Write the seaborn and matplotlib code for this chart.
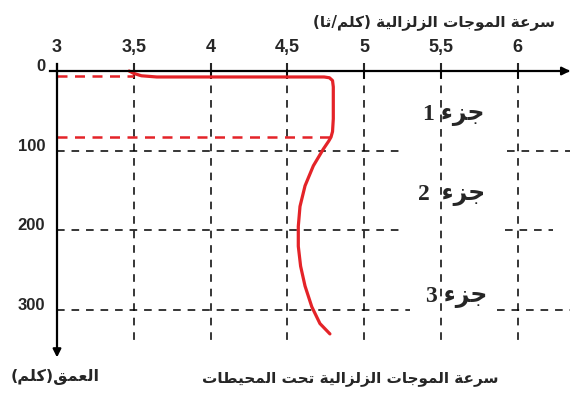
import numpy as np
import pandas as pd
import matplotlib
matplotlib.use('Agg')
import matplotlib.pyplot as plt
import seaborn as sns
from matplotlib.transforms import ScaledTranslation

# ---- data ----
speed_ticks = [3, 3.5, 4, 4.5, 5, 5.5, 6]
speed_labels = ['3', '3,5', '4', '4,5', '5', '5,5', '6']
depth_ticks = [0, 100, 200, 300]
depth_minor = [50, 150, 250]

# wave speed profile under the oceans (km/s vs depth km)
curve_depth = [0, 3, 6, 7.5, 7.5, 8.5, 12, 20, 60, 76, 83, 88, 98, 119,
               144, 170, 195, 220, 245, 270, 296, 317, 330]
curve_speed = [3.47, 3.50, 3.55, 3.65, 4.74, 4.775, 4.795, 4.80, 4.80, 4.795,
               4.785, 4.77, 4.735, 4.67, 4.616, 4.583, 4.572, 4.572, 4.587,
               4.616, 4.66, 4.713, 4.778]

# red dashed boundaries
bound_depth = [6, 83]
bound_speed = [3.5, 4.79]

part_labels = ['جزء 1', 'جزء  2', 'جزء 3']
title_top = 'سرعة الموجات الزلزالية (كلم/ثا)'
title_bottom = 'سرعة الموجات الزلزالية تحت المحيطات'
depth_label = 'العمق(كلم)'

# ---- tiny arabic shaper (matplotlib has no complex text layout) ----
DUAL = {'ب': 0xFE8F, 'ت': 0xFE95, 'ث': 0xFE99, 'ج': 0xFE9D, 'ح': 0xFEA1,
        'خ': 0xFEA5, 'س': 0xFEB1, 'ش': 0xFEB5, 'ص': 0xFEB9, 'ض': 0xFEBD,
        'ط': 0xFEC1, 'ظ': 0xFEC5, 'ع': 0xFEC9, 'غ': 0xFECD, 'ف': 0xFED1,
        'ق': 0xFED5, 'ك': 0xFED9, 'ل': 0xFEDD, 'م': 0xFEE1, 'ن': 0xFEE5,
        'ه': 0xFEE9, 'ي': 0xFEF1}
RIGHT = {'ا': 0xFE8D, 'ة': 0xFE93, 'د': 0xFEA9, 'ذ': 0xFEAB, 'ر': 0xFEAD,
         'ز': 0xFEAF, 'و': 0xFEED, 'ى': 0xFEEF}


def shape(s):
    out = []
    for i, ch in enumerate(s):
        prev = s[i - 1] if i > 0 else ''
        nxt = s[i + 1] if i < len(s) - 1 else ''
        if ch in DUAL:
            a = prev in DUAL
            b = nxt in DUAL or nxt in RIGHT
            out.append(chr(DUAL[ch] + (3 if a and b else 1 if a else 2 if b else 0)))
        elif ch in RIGHT:
            out.append(chr(RIGHT[ch] + (1 if prev in DUAL else 0)))
        elif ch == 'ء':
            out.append('\uFE80')
        else:
            out.append(ch)
    return ''.join(out)[::-1].translate(str.maketrans('()', ')('))


sns.set_style('white')
plt.rcParams['font.family'] = ['Liberation Sans', 'DejaVu Sans']

W, H = 577, 397
fig = plt.figure(figsize=(W / 100, H / 100), dpi=100)
ax = fig.add_axes([0, 0, 1, 1])
ax.set_facecolor('white')
ax.set_xlim(3 - 57 / 153.5, 3 + 520 / 153.5)
ax.set_ylim((397 - 71) / 0.7967, -71 / 0.7967)

red = '#e42328'

# grid (dashed black)
for s in speed_ticks[1:]:
    ax.plot([s, s], [0, 345], color='black', lw=1.1, dashes=(5, 4.5), zorder=1)
grid_rows = {100: [(3, 5.254), (5.932, 6.342)],
             200: [(3, 5.254), (5.919, 6.23)],
             300: [(3, 5.30), (5.866, 6.342)]}
for d, segs in grid_rows.items():
    for x0, x1 in segs:
        ax.plot([x0, x1], [d, d], color='black', lw=1.1, dashes=(5, 4.5), zorder=1)

# red dashed layer boundaries
for d, s in zip(bound_depth, bound_speed):
    ax.plot([3, s], [d, d], color=red, lw=1.8, dashes=(4, 3), zorder=2)

# profile
df = pd.DataFrame({'speed': curve_speed, 'depth': curve_depth})
sns.lineplot(data=df, x='speed', y='depth', sort=False, estimator=None,
             color=red, lw=2.3, ax=ax, zorder=3)

# axes as arrows
for side in ['right', 'bottom']:
    ax.spines[side].set_visible(False)
ax.spines['top'].set_position(('data', 0))
ax.spines['top'].set_bounds(2.954, 6.33)
ax.spines['left'].set_position(('data', 3))
ax.spines['left'].set_bounds(-9, 352)
for side in ['top', 'left']:
    ax.spines[side].set_linewidth(1.6)
    ax.spines[side].set_color('black')
    ax.spines[side].set_zorder(4)
ax.annotate('', xy=(3 + 516 / 153.5, 0), xytext=(6.30, 0),
            arrowprops=dict(arrowstyle='-|>', color='black', lw=1.6, mutation_scale=12))
ax.annotate('', xy=(3, 363), xytext=(3, 345),
            arrowprops=dict(arrowstyle='-|>', color='black', lw=1.6, mutation_scale=12))

ax.xaxis.set_ticks_position('top')
ax.xaxis.set_label_position('top')
ax.set_xticks(speed_ticks)
ax.set_xticklabels(speed_labels, fontsize=13, fontweight='bold')
ax.tick_params(axis='x', direction='inout', length=11, width=1.5, pad=5)
ax.set_yticks(depth_ticks)
ax.set_yticks(depth_minor, minor=True)
ax.set_yticklabels([str(d) for d in depth_ticks], fontsize=12, fontweight='bold')
ax.tick_params(axis='y', which='both', direction='inout', length=11, width=1.5, pad=3)
for lab in ax.get_yticklabels():
    lab.set_transform(lab.get_transform() + ScaledTranslation(0, 6 / 100, fig.dpi_scale_trans))
ax.set_xlabel('')
ax.set_ylabel('')

# texts
fig.text(555 / W, 1 - 22 / H, shape(title_top), ha='right', va='center',
         fontsize=11, fontweight='bold', family='DejaVu Sans')
fig.text(350 / W, 1 - 379 / H, shape(title_bottom), ha='center', va='center',
         fontsize=11, fontweight='bold', family='DejaVu Sans')
fig.text(55 / W, 1 - 377 / H, shape(depth_label), ha='center', va='center',
         fontsize=11.5, fontweight='bold', family='DejaVu Sans')
for lab, (px, py) in zip(part_labels, [(454, 115), (452, 196), (457, 297)]):
    fig.text(px / W, 1 - py / H, shape(lab), ha='center', va='center',
             fontsize=17, fontweight='bold', family=['Liberation Serif', 'DejaVu Sans'])

fig.savefig('out.png', dpi=100)
